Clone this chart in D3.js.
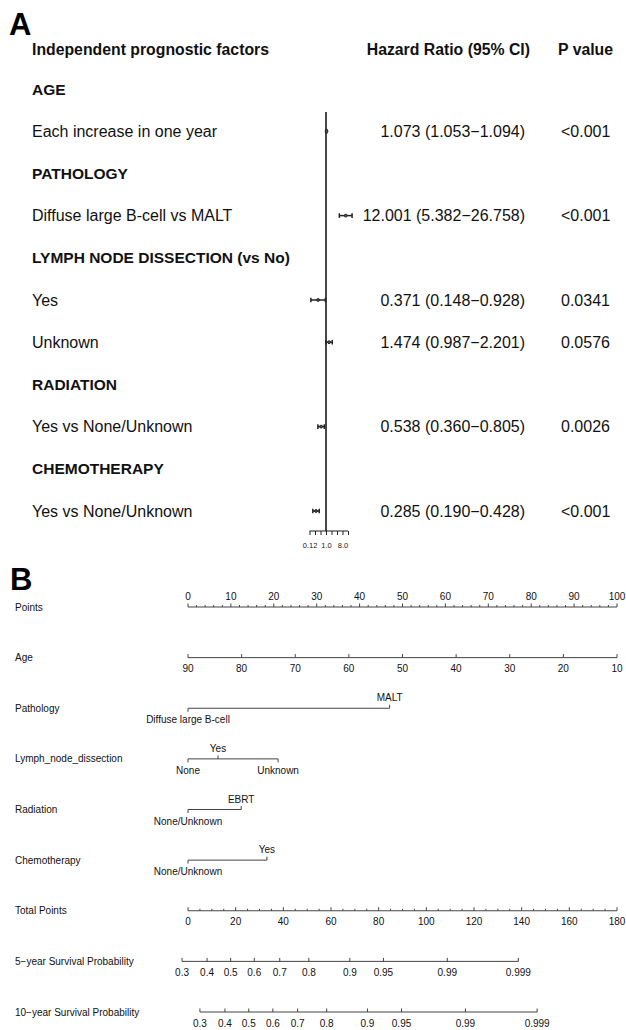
<!DOCTYPE html>
<html>
<head>
<meta charset="utf-8">
<script src="https://cdn.jsdelivr.net/npm/d3@7"></script>
<style>
  html, body { margin: 0; padding: 0; background: #fff; }
  svg { display: block; font-family: "Liberation Sans", Arial, sans-serif; }
</style>
</head>
<body>
<svg id="chart" width="626" height="1030"></svg>
<script>
// ---------------- Panel A data ----------------
const groupNames = ["AGE", "PATHOLOGY", "LYMPH NODE DISSECTION (vs No)", "RADIATION", "CHEMOTHERAPY"];
const factorLabels = ["Each increase in one year", "Diffuse large B-cell vs MALT", "Yes", "Unknown", "Yes vs None/Unknown", "Yes vs None/Unknown"];
const factorGroup = [0, 1, 2, 2, 3, 4];
const hrValues = [1.073, 12.001, 0.371, 1.474, 0.538, 0.285];
const hrLower = [1.053, 5.382, 0.148, 0.987, 0.360, 0.190];
const hrUpper = [1.094, 26.758, 0.928, 2.201, 0.805, 0.428];
const pValues = ["<0.001", "<0.001", "0.0341", "0.0576", "0.0026", "<0.001"];
const hrTicks = [0.125, 0.25, 0.5, 1, 2, 4, 8, 16];
const hrTickLabels = {0.125: "0.12", 1: "1.0", 8: "8.0"};

// ---------------- Panel B data ----------------
const pointTicks = d3.range(0, 101, 10);
const ageTicks = [90, 80, 70, 60, 50, 40, 30, 20, 10];
const pathologyLevels = ["Diffuse large B-cell", "MALT"];
const pathologyPoints = [0, 47];
const lymphLevels = ["None", "Yes", "Unknown"];
const lymphPoints = [0, 7, 21];
const radiationLevels = ["None/Unknown", "EBRT"];
const radiationPoints = [0, 12.4];
const chemoLevels = ["None/Unknown", "Yes"];
const chemoPoints = [0, 18.4];
const totalTicks = d3.range(0, 181, 20);
const survProbs = ["0.3", "0.4", "0.5", "0.6", "0.7", "0.8", "0.9", "0.95", "0.99", "0.999"];
const surv5Points = [-2.5, 8.0, 17.9, 27.8, 38.5, 50.7, 67.9, 82.0, 108.8, 138.6];
const surv10Points = [5.0, 15.5, 25.5, 35.6, 46.0, 58.2, 75.3, 89.6, 116.4, 146.5];

const svg = d3.select("#chart");
const ink = "#111";
const lineCol = "#444";

// ================= Panel A =================
svg.append("text").attr("x", 9).attr("y", 35).attr("font-size", 31).attr("font-weight", "bold")
  .attr("fill", "#000").text("A");

const headY = 49;
svg.append("text").attr("x", 32).attr("y", headY).attr("dominant-baseline", "central")
  .attr("font-size", 15.8).attr("font-weight", "bold").attr("fill", ink).text("Independent prognostic factors");
svg.append("text").attr("x", 530).attr("y", headY).attr("dominant-baseline", "central").attr("text-anchor", "end")
  .attr("font-size", 15.8).attr("font-weight", "bold").attr("fill", ink).text("Hazard Ratio (95% CI)");
svg.append("text").attr("x", 558).attr("y", headY).attr("dominant-baseline", "central")
  .attr("font-size", 15.8).attr("font-weight", "bold").attr("fill", ink).text("P value");

// build row list
const rows = [];
groupNames.forEach((g, gi) => {
  rows.push({type: "group", label: g});
  factorLabels.forEach((f, i) => {
    if (factorGroup[i] === gi) rows.push({type: "item", label: f, hr: hrValues[i], lo: hrLower[i], hi: hrUpper[i], p: pValues[i]});
  });
});
const yRow = d3.scalePoint().domain(d3.range(rows.length)).range([89, 511]);
const xHR = d3.scaleLog().base(2).domain([0.125, 16]).range([309.5, 348]);

rows.forEach((r, i) => {
  const y = yRow(i);
  svg.append("text").attr("x", 32).attr("y", y).attr("dominant-baseline", "central")
    .attr("font-size", r.type === "group" ? 15.5 : 16)
    .attr("font-weight", r.type === "group" ? "bold" : "normal")
    .attr("fill", ink).text(r.label);
  if (r.type === "item") {
    svg.append("text").attr("x", 525).attr("y", y).attr("dominant-baseline", "central").attr("text-anchor", "end")
      .attr("font-size", 16).attr("fill", ink)
      .text(`${r.hr.toFixed(3)} (${r.lo.toFixed(3)}\u2212${r.hi.toFixed(3)})`);
    svg.append("text").attr("x", 561).attr("y", y).attr("dominant-baseline", "central")
      .attr("font-size", 16).attr("fill", ink).text(r.p);
  }
});

// reference line
const refY0 = 112, axisY = 531;
svg.append("line").attr("x1", xHR(1)).attr("x2", xHR(1)).attr("y1", refY0).attr("y2", axisY)
  .attr("stroke", "#333").attr("stroke-width", 1.8);

// CIs
const items = rows.map((r, i) => ({...r, i})).filter(r => r.type === "item");
const ci = svg.append("g").attr("stroke", "#222").attr("stroke-width", 1.5).attr("fill", "#222");
items.forEach(r => {
  const y = yRow(r.i);
  ci.append("line").attr("x1", xHR(r.lo)).attr("x2", xHR(r.hi)).attr("y1", y).attr("y2", y);
  ci.append("line").attr("x1", xHR(r.lo)).attr("x2", xHR(r.lo)).attr("y1", y - 2.3).attr("y2", y + 2.3);
  ci.append("line").attr("x1", xHR(r.hi)).attr("x2", xHR(r.hi)).attr("y1", y - 2.3).attr("y2", y + 2.3);
  ci.append("circle").attr("cx", xHR(r.hr)).attr("cy", y).attr("r", 1.4).attr("fill", "#555").attr("stroke-width", 1);
});

// HR axis
const hrAxis = d3.axisBottom(xHR).tickValues(hrTicks).tickSize(4)
  .tickFormat(d => hrTickLabels[d] || "");
const gHR = svg.append("g").attr("transform", `translate(0,${axisY})`).call(hrAxis);
gHR.select(".domain").attr("stroke", "#222").attr("stroke-width", 1.2).attr("d", `M${xHR(0.125)},0H${xHR(16)}`);
gHR.selectAll(".tick line").attr("stroke", "#222").attr("stroke-width", 1);
gHR.selectAll(".tick text").attr("font-size", 7.5).attr("fill", "#222").attr("dy", "1.3em")
  .attr("font-family", "Liberation Sans, Arial, sans-serif");

// ================= Panel B =================
svg.append("text").attr("x", 10).attr("y", 590).attr("font-size", 31).attr("font-weight", "bold")
  .attr("fill", "#000").text("B");

const xPts = d3.scaleLinear().domain([0, 100]).range([188, 617]);
const xTot = d3.scaleLinear().domain([0, 180]).range([188, 617]);
const rowNames = ["Points", "Age", "Pathology", "Lymph_node_dissection", "Radiation", "Chemotherapy",
  "Total Points", "5\u2212year Survival Probability", "10\u2212year Survival Probability"];
const yB = d3.scalePoint().domain(rowNames).range([607, 1012]);
const fs = 10;

rowNames.forEach(n => {
  svg.append("text").attr("x", 15).attr("y", yB(n)).attr("dominant-baseline", "central")
    .attr("font-size", fs).attr("fill", ink).text(n);
});

function hline(x1, x2, y) {
  svg.append("line").attr("x1", x1).attr("x2", x2).attr("y1", y).attr("y2", y)
    .attr("stroke", lineCol).attr("stroke-width", 1);
}
function tick(x, y, len) {
  svg.append("line").attr("x1", x).attr("x2", x).attr("y1", y).attr("y2", y + len)
    .attr("stroke", lineCol).attr("stroke-width", 1);
}
function label(x, y, t) {
  svg.append("text").attr("x", x).attr("y", y).attr("dominant-baseline", "central")
    .attr("text-anchor", "middle").attr("font-size", fs).attr("fill", ink).text(t);
}

// Points axis
{
  const y = yB("Points");
  hline(xPts(0), xPts(100), y);
  d3.range(0, 101, 2).forEach(v => tick(xPts(v), y, v % 10 === 0 ? -3.5 : -2));
  pointTicks.forEach(v => label(xPts(v), y - 11, v));
}
// Age axis
{
  const y = yB("Age");
  const xAge = d3.scaleLinear().domain([90, 10]).range([xPts(0), xPts(100)]);
  hline(xAge(90), xAge(10), y);
  ageTicks.forEach(v => { tick(xAge(v), y, -3.5); label(xAge(v), y + 11, v); });
}
// Categorical axes
function catAxis(name, levels, pts, above) {
  const y = yB(name);
  hline(xPts(d3.min(pts)), xPts(d3.max(pts)), y);
  levels.forEach((lv, i) => {
    const up = above[i];
    tick(xPts(pts[i]), y, up ? -3.5 : 3.5);
    label(xPts(pts[i]), y + (up ? -10.5 : 11.5), lv);
  });
}
catAxis("Pathology", pathologyLevels, pathologyPoints, [false, true]);
catAxis("Lymph_node_dissection", lymphLevels, lymphPoints, [false, true, false]);
catAxis("Radiation", radiationLevels, radiationPoints, [false, true]);
catAxis("Chemotherapy", chemoLevels, chemoPoints, [false, true]);

// Total points
{
  const y = yB("Total Points");
  hline(xTot(0), xTot(180), y);
  d3.range(0, 181, 5).forEach(v => tick(xTot(v), y, v % 20 === 0 ? -3.5 : -2));
  totalTicks.forEach(v => label(xTot(v), y + 11, v));
}
// Survival axes
function survAxis(name, pts) {
  const y = yB(name);
  hline(xTot(d3.min(pts)), xTot(d3.max(pts)), y);
  pts.forEach((p, i) => { tick(xTot(p), y, -3.5); label(xTot(p), y + 11, survProbs[i]); });
}
survAxis("5\u2212year Survival Probability", surv5Points);
survAxis("10\u2212year Survival Probability", surv10Points);
</script>
</body>
</html>
